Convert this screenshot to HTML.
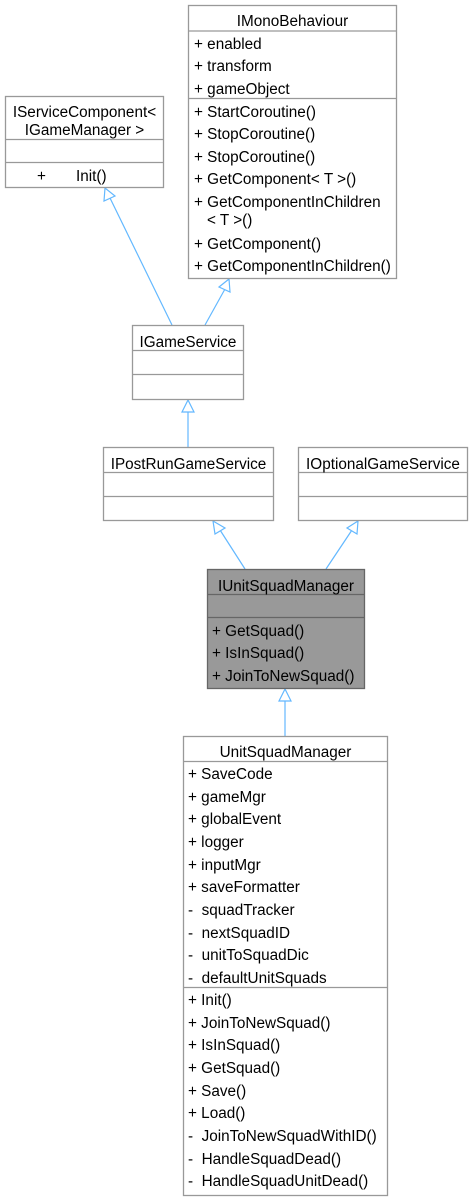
<!DOCTYPE html>
<html><head><meta charset="utf-8"><style>
html,body{margin:0;padding:0;background:#fff;}
svg{display:block;}
text{font-family:"Liberation Sans",Arial,sans-serif;font-size:15.3px;fill:#000;}
.b{fill:#fff;stroke:#999;stroke-width:1.3;}
.l{stroke:#999;stroke-width:1.3;}
.e{stroke:#63b8ff;stroke-width:1.2;fill:none;}
.a{stroke:#63b8ff;stroke-width:1.2;fill:#fff;}
</style></head><body>
<svg width="473" height="1200" viewBox="0 0 473 1200" xmlns="http://www.w3.org/2000/svg">
<line class="e" x1="172" y1="325" x2="110" y2="198"/>
<polygon class="a" points="105,188 104,201 115,196"/>
<line class="e" x1="205" y1="325" x2="225" y2="289"/>
<polygon class="a" points="229,279 219,287 230,292"/>
<line class="e" x1="188" y1="447" x2="188" y2="411"/>
<polygon class="a" points="188,400 182,412 194,412"/>
<line class="e" x1="245" y1="569" x2="220" y2="530"/>
<polygon class="a" points="213,521 215,534 225,528"/>
<line class="e" x1="326" y1="569" x2="352" y2="530"/>
<polygon class="a" points="358,521 347,528 357,534"/>
<line class="e" x1="285" y1="736" x2="285" y2="700"/>
<polygon class="a" points="285,689 279,701 291,701"/>

<rect class="b" x="188.5" y="5.5" width="208" height="273"/>
<line class="l" x1="188.5" y1="31" x2="396.5" y2="31"/>
<line class="l" x1="188.5" y1="98.5" x2="396.5" y2="98.5"/>
<text x="292.5" y="26" text-anchor="middle">IMonoBehaviour</text>
<text x="194" y="49">+ enabled</text>
<text x="194" y="71">+ transform</text>
<text x="194" y="94">+ gameObject</text>
<text x="194" y="117">+ StartCoroutine()</text>
<text x="194" y="139">+ StopCoroutine()</text>
<text x="194" y="162">+ StopCoroutine()</text>
<text x="194" y="184">+ GetComponent&lt; T &gt;()</text>
<text x="194" y="207">+ GetComponentInChildren</text>
<text x="207" y="225">&lt; T &gt;()</text>
<text x="194" y="249">+ GetComponent()</text>
<text x="194" y="271">+ GetComponentInChildren()</text>

<rect class="b" x="5.5" y="96.5" width="158" height="91"/>
<line class="l" x1="5.5" y1="139.5" x2="163.5" y2="139.5"/>
<line class="l" x1="5.5" y1="162.5" x2="163.5" y2="162.5"/>
<text x="84.5" y="117" text-anchor="middle">IServiceComponent&lt;</text>
<text x="84.5" y="135" text-anchor="middle">IGameManager &gt;</text>
<text x="37" y="181">+</text>
<text x="76" y="181">Init()</text>

<rect class="b" x="132.5" y="325.5" width="111" height="74"/>
<line class="l" x1="132.5" y1="350.5" x2="243.5" y2="350.5"/>
<line class="l" x1="132.5" y1="374.5" x2="243.5" y2="374.5"/>
<text x="188" y="347" text-anchor="middle">IGameService</text>

<rect class="b" x="103.5" y="447.5" width="170" height="73"/>
<line class="l" x1="103.5" y1="472.5" x2="273.5" y2="472.5"/>
<line class="l" x1="103.5" y1="496.5" x2="273.5" y2="496.5"/>
<text x="188.5" y="469" text-anchor="middle">IPostRunGameService</text>

<rect class="b" x="298.5" y="447.5" width="169" height="73"/>
<line class="l" x1="298.5" y1="472.5" x2="467.5" y2="472.5"/>
<line class="l" x1="298.5" y1="496.5" x2="467.5" y2="496.5"/>
<text x="383" y="469" text-anchor="middle">IOptionalGameService</text>

<rect x="207.5" y="569.5" width="157" height="119" fill="#999" stroke="#666" stroke-width="1.3"/>
<line x1="207.5" y1="594.5" x2="364.5" y2="594.5" stroke="#666" stroke-width="1.3"/>
<line x1="207.5" y1="617.5" x2="364.5" y2="617.5" stroke="#666" stroke-width="1.3"/>
<text x="286" y="591" text-anchor="middle">IUnitSquadManager</text>
<text x="212" y="636">+ GetSquad()</text>
<text x="212" y="658">+ IsInSquad()</text>
<text x="212" y="681">+ JoinToNewSquad()</text>

<rect class="b" x="183.5" y="736.5" width="204" height="459"/>
<line class="l" x1="183.5" y1="761.5" x2="387.5" y2="761.5"/>
<line class="l" x1="183.5" y1="987.5" x2="387.5" y2="987.5"/>
<text x="285.5" y="757" text-anchor="middle">UnitSquadManager</text>
<text x="188" y="779">+ SaveCode</text>
<text x="188" y="802">+ gameMgr</text>
<text x="188" y="824">+ globalEvent</text>
<text x="188" y="847">+ logger</text>
<text x="188" y="870">+ inputMgr</text>
<text x="188" y="892">+ saveFormatter</text>
<text x="188" y="915">-&#160;&#160;squadTracker</text>
<text x="188" y="938">-&#160;&#160;nextSquadID</text>
<text x="188" y="960">-&#160;&#160;unitToSquadDic</text>
<text x="188" y="983">-&#160;&#160;defaultUnitSquads</text>
<text x="188" y="1005">+ Init()</text>
<text x="188" y="1028">+ JoinToNewSquad()</text>
<text x="188" y="1050">+ IsInSquad()</text>
<text x="188" y="1073">+ GetSquad()</text>
<text x="188" y="1096">+ Save()</text>
<text x="188" y="1118">+ Load()</text>
<text x="188" y="1141">-&#160;&#160;JoinToNewSquadWithID()</text>
<text x="188" y="1164">-&#160;&#160;HandleSquadDead()</text>
<text x="188" y="1186">-&#160;&#160;HandleSquadUnitDead()</text>
</svg>
</body></html>
